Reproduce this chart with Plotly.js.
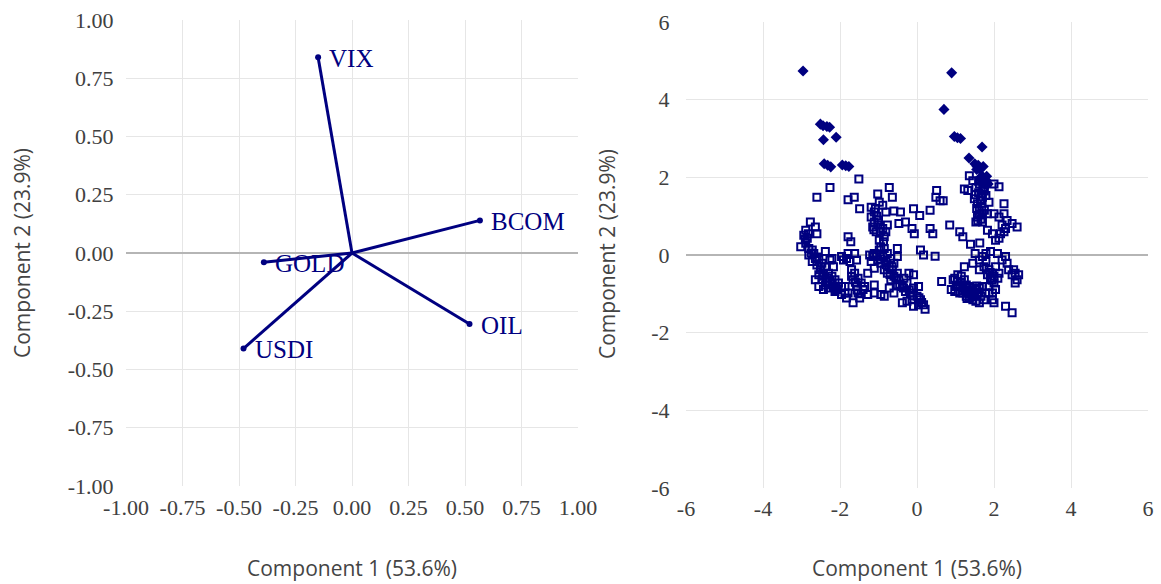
<!DOCTYPE html>
<html>
<head>
<meta charset="utf-8">
<script src="https://cdn.plot.ly/plotly-3.0.1.min.js"></script>
<style>html,body{margin:0;padding:0;background:#fff;}#chart{width:1161px;height:584px;}</style>
</head>
<body>
<div id="chart"></div>
<script>
// Loadings (left panel)
var varNames = ["VIX", "BCOM", "OIL", "USDI", "GOLD"];
var loadX = [-0.15, 0.566, 0.52, -0.48, -0.39];
var loadY = [0.84, 0.14, -0.305, -0.41, -0.04];

// Tick values / labels
var loadTicks = [-1, -0.75, -0.5, -0.25, 0, 0.25, 0.5, 0.75, 1];
var loadTickText = ["-1.00", "-0.75", "-0.50", "-0.25", "0.00", "0.25", "0.50", "0.75", "1.00"];
var scoreTicks = [-6, -4, -2, 0, 2, 4, 6];
var scoreTickText = ["-6", "-4", "-2", "0", "2", "4", "6"];

// Scores (right panel) - hollow markers
var scoreX = [
-2.77,-2.64,-2.60,-2.89,-2.94,-2.85,-3.02,-2.89,-2.81,-2.72,-2.81,-2.68,-2.64,-2.72,-2.55,-2.60,-2.47,-2.51,-2.38,-2.55,-2.43,-2.34,-2.47,-2.26,-2.38,-2.21,-2.13,-2.30,-2.17,-2.04,-2.09,-1.96,-1.87,-1.83,-1.96,-2.38,-2.26,-2.17,-2.21,-2.64,-2.55,-2.43,-2.13,-2.30,
-2.75,-2.60,-2.50,-2.45,-2.35,-2.20,-2.10,-2.90,-2.82,
-1.79,-1.72,-1.91,-1.83,-1.74,-1.62,-1.57,-1.70,-1.62,-1.66,-1.53,-1.45,-1.57,-1.40,-1.53,-1.66,-1.49,-1.28,-1.36,-1.79,-1.87,-1.79,-1.96,
-1.60,-1.55,-1.45,-1.70,
-1.02,-0.72,-0.64,-1.19,-1.11,-0.98,-0.89,-1.19,-1.11,-1.02,-1.15,-1.06,-0.89,-0.81,-0.85,-0.77,-0.81,-0.60,-0.43,-0.47,-0.30,-0.09,0.07,0.34,-0.13,-0.07,0.09,0.17,0.47,0.34,0.41,0.51,0.49,0.60,0.68,-0.51,-1.11,
-1.05,-1.00,-1.12,-0.95,-1.08,
-1.23,-1.11,-0.98,-0.85,-0.89,-0.77,-1.02,-1.19,-0.94,-0.81,-0.68,-0.72,-0.60,-0.85,-0.64,-0.51,-0.77,-0.60,-0.47,-0.34,-0.51,-0.38,-0.26,-0.30,-0.17,-0.09,0.00,-0.13,0.09,0.17,0.04,0.21,-0.26,-0.38,-0.09,-0.51,-0.94,-0.87,-0.98,-1.11,-1.28,-1.11,-0.94,-0.85,-0.72,-0.09,0.04,-0.21,-1.15,-0.60,-0.68,
-0.70,-0.55,-0.45,-0.35,-0.20,-0.10,0.05,0.12,-0.80,-0.95,-1.05,-0.65,
-2.60,-2.26,-1.79,-1.63,-1.49,-1.51,
1.36,1.45,1.32,1.53,1.62,1.66,1.49,1.57,1.70,1.79,1.87,1.62,1.70,1.57,1.53,1.70,1.83,2.00,2.13,2.26,2.00,2.13,2.26,2.34,2.21,2.47,2.60,1.83,1.96,2.04,2.13,2.17,2.26,2.30,
1.60,1.65,1.55,1.68,1.75,1.60,1.72,1.52,1.62,1.66,1.58,1.75,
0.85,1.11,1.19,1.39,1.63,1.51,0.64,0.94,1.23,
0.98,1.06,1.15,1.23,1.02,1.11,1.19,1.28,1.36,1.45,1.53,1.62,1.70,1.32,1.40,1.49,1.57,1.66,1.19,1.28,1.36,1.45,1.53,1.62,1.11,0.98,0.89,1.79,1.74,1.87,1.96,2.00,
1.25,1.30,1.40,1.35,1.45,1.50,1.20,1.55,1.42,1.30,1.60,1.15,1.05,
1.62,1.70,1.79,1.74,1.87,1.96,1.83,1.91,2.00,1.87,2.04,1.96,2.09,2.21,2.30,2.34,2.38,2.51,2.55,2.47,2.64,2.60,2.55,2.30,2.47,2.04,2.13,1.79,1.91,1.23,1.45,1.62,
2.00,1.95,2.10,1.90
];
var scoreY = [
0.85,0.72,0.55,0.64,0.51,0.43,0.21,0.30,0.17,0.13,0.00,0.04,-0.09,-0.17,-0.13,-0.26,-0.21,-0.38,-0.30,-0.51,-0.47,-0.60,-0.64,-0.68,-0.77,-0.55,-0.64,-0.85,-0.81,-0.72,-0.89,-0.81,-0.98,-1.11,-1.02,0.09,-0.13,-0.30,-0.09,-0.64,-0.81,-0.89,-0.94,-0.47,
0.05,-0.05,-0.30,-0.55,-0.70,-0.75,-0.85,0.40,0.55,
0.47,0.34,-0.13,-0.09,-0.17,0.04,-0.13,-0.38,-0.47,-0.64,-0.60,-0.72,-0.81,-0.89,-0.98,-1.23,-1.11,-1.02,-0.81,-0.98,-0.81,0.04,-0.04,
-0.70,-0.90,-1.00,-0.55,
1.57,1.74,1.49,1.23,1.11,1.36,1.28,0.98,0.85,0.77,0.72,0.60,0.68,0.60,0.47,0.77,1.11,1.13,1.11,0.81,0.85,1.19,1.02,1.15,0.68,0.55,0.13,0.00,-0.03,0.68,0.55,1.66,1.49,1.40,1.40,0.17,-0.98,
1.00,0.90,0.65,0.62,1.20,
0.00,0.04,0.13,0.17,-0.04,0.04,-0.13,-0.17,-0.21,-0.17,-0.09,-0.30,-0.21,-0.38,-0.38,-0.47,-0.47,-0.55,-0.64,-0.60,-0.77,-0.81,-0.72,-0.94,-0.98,-0.85,-1.06,-1.15,-1.15,-1.28,-1.28,-1.40,-1.19,-1.23,-1.32,-0.04,0.21,0.34,0.38,-0.34,-0.47,-0.77,-1.02,-1.06,-0.85,-0.51,-0.81,-0.47,-0.04,-0.98,-0.64,
-0.50,-0.60,-0.75,-0.85,-0.90,-1.05,-1.10,-1.22,-0.25,-0.10,0.00,-0.30,
1.49,1.74,1.42,1.49,1.19,1.96,
2.04,1.91,1.66,1.74,1.83,1.57,1.45,1.32,1.49,1.53,1.36,1.15,1.06,0.98,0.85,0.85,1.06,1.83,1.76,1.32,1.06,0.98,1.06,0.89,0.77,0.81,0.72,0.64,0.55,0.38,0.43,0.55,0.60,0.68,
1.60,1.40,1.20,1.25,1.65,1.90,1.75,1.55,1.05,0.92,0.88,1.15,
0.77,0.60,0.47,0.28,0.31,0.04,-0.68,-0.64,1.70,
-0.60,-0.51,-0.55,-0.64,-0.81,-0.77,-0.85,-0.77,-0.81,-0.85,-0.89,-0.85,-0.81,-0.94,-0.98,-1.02,-0.98,-1.06,-0.98,-1.06,-1.11,-1.15,-1.19,-1.23,-0.98,-0.94,-0.89,-0.98,-1.15,-0.98,-1.15,-1.23,
-0.90,-0.85,-0.90,-1.00,-0.95,-1.05,-0.92,-0.80,-1.08,-1.12,-0.95,-0.70,-0.68,
-0.13,-0.04,-0.17,-0.30,-0.38,-0.47,-0.51,-0.60,-0.72,-0.81,-0.89,-0.98,0.04,-0.13,-0.04,-0.21,-0.38,-0.38,-0.47,-0.51,-0.51,-0.64,-0.72,-1.32,-1.49,-0.30,-0.47,0.04,0.09,-0.30,-0.21,-0.38,
-0.55,-0.65,-0.60,-0.45
];

// Scores (right panel) - filled markers (upper outliers)
var topX = [-2.96,0.90,0.70,-2.51,-2.44,-2.34,-2.27,-2.43,-2.10,0.97,1.05,1.13,1.69,-2.41,-2.32,-2.24,-1.94,-1.85,-1.77,1.35,1.50,1.56,1.72,1.63,1.70,1.80,1.68,1.76,1.59,1.55,1.81,1.63,1.85];
var topY = [4.74,4.69,3.75,3.37,3.33,3.31,3.29,2.97,3.03,3.05,3.02,3.00,2.78,2.35,2.31,2.27,2.32,2.30,2.28,2.50,2.35,2.28,2.28,2.20,2.03,1.92,1.87,1.81,2.31,2.20,2.03,1.98,1.83];

var navy = "#000080";
var lineX = [], lineY = [];
for (var i = 0; i < varNames.length; i++) {
  lineX.push(0, loadX[i], null);
  lineY.push(0, loadY[i], null);
}

var traces = [
  {x: lineX, y: lineY, mode: "lines", line: {color: navy, width: 3}, xaxis: "x", yaxis: "y", hoverinfo: "skip"},
  {x: loadX, y: loadY, mode: "markers", marker: {color: navy, size: 6}, xaxis: "x", yaxis: "y"},
  {x: scoreX, y: scoreY, mode: "markers", marker: {symbol: "square-open", size: 7, color: navy, line: {color: navy, width: 2}}, xaxis: "x2", yaxis: "y2"},
  {x: topX, y: topY, mode: "markers", marker: {symbol: "diamond", size: 8.5, color: navy}, xaxis: "x2", yaxis: "y2"}
];

var tickFont = {family: "Liberation Serif, Times New Roman, serif", size: 22, color: "#404040"};
var titleFont = {family: "Open Sans, sans-serif", size: 21, color: "#444"};
var labelFont = {family: "Liberation Serif, Times New Roman, serif", size: 25, color: navy};
var grid = "#e6e6e6";

var annotations = [
  {text: "Component 1 (53.6%)", xref: "paper", yref: "paper", x: 352/1161, y: 1-568/584, xanchor: "center", yanchor: "middle", showarrow: false, font: titleFont},
  {text: "Component 1 (53.6%)", xref: "paper", yref: "paper", x: 917/1161, y: 1-568/584, xanchor: "center", yanchor: "middle", showarrow: false, font: titleFont},
  {text: "Component 2 (23.9%)", xref: "paper", yref: "paper", x: 22/1161, y: 1-253/584, xanchor: "center", yanchor: "middle", textangle: -90, showarrow: false, font: titleFont},
  {text: "Component 2 (23.9%)", xref: "paper", yref: "paper", x: 607/1161, y: 1-254/584, xanchor: "center", yanchor: "middle", textangle: -90, showarrow: false, font: titleFont}
];
for (var j = 0; j < varNames.length; j++) {
  annotations.push({text: varNames[j], xref: "x", yref: "y", x: loadX[j], y: loadY[j], xanchor: "left", yanchor: "middle",
    xshift: 9, yshift: -1, showarrow: false, font: labelFont});
}

var edge = {showline: true, linecolor: "#ffffff", linewidth: 2, mirror: true};

var layout = {
  width: 1161, height: 584,
  margin: {l: 0, r: 0, t: 0, b: 0},
  paper_bgcolor: "#fff", plot_bgcolor: "#fff",
  showlegend: false,
  xaxis: Object.assign({domain: [126/1161, 578/1161], range: [-1, 1], tickvals: loadTicks, ticktext: loadTickText,
    showgrid: true, gridcolor: grid, zeroline: false, ticks: "", ticklabelstandoff: 1, tickfont: tickFont, automargin: false, anchor: "y"}, edge),
  yaxis: Object.assign({domain: [1-486/584, 1-20/584], range: [-1, 1], tickvals: loadTicks, ticktext: loadTickText,
    showgrid: true, gridcolor: grid, zeroline: true, zerolinecolor: "#b5b5b5", zerolinewidth: 1.5, ticks: "", ticklabelstandoff: 6, tickfont: tickFont, automargin: false, anchor: "x"}, edge),
  xaxis2: Object.assign({domain: [686/1161, 1148/1161], range: [-6, 6], tickvals: scoreTicks, ticktext: scoreTickText,
    showgrid: true, gridcolor: grid, zeroline: false, ticks: "", ticklabelstandoff: 0, tickfont: tickFont, automargin: false, anchor: "y2"}, edge),
  yaxis2: Object.assign({domain: [1-488/584, 1-22/584], range: [-6, 6], tickvals: scoreTicks, ticktext: scoreTickText,
    showgrid: true, gridcolor: grid, zeroline: true, zerolinecolor: "#b5b5b5", zerolinewidth: 1.5, ticks: "", ticklabelstandoff: 10, tickfont: tickFont, automargin: false, anchor: "x2"}, edge),
  annotations: annotations
};

Plotly.newPlot("chart", traces, layout, {displayModeBar: false, staticPlot: true});
</script>
</body>
</html>
